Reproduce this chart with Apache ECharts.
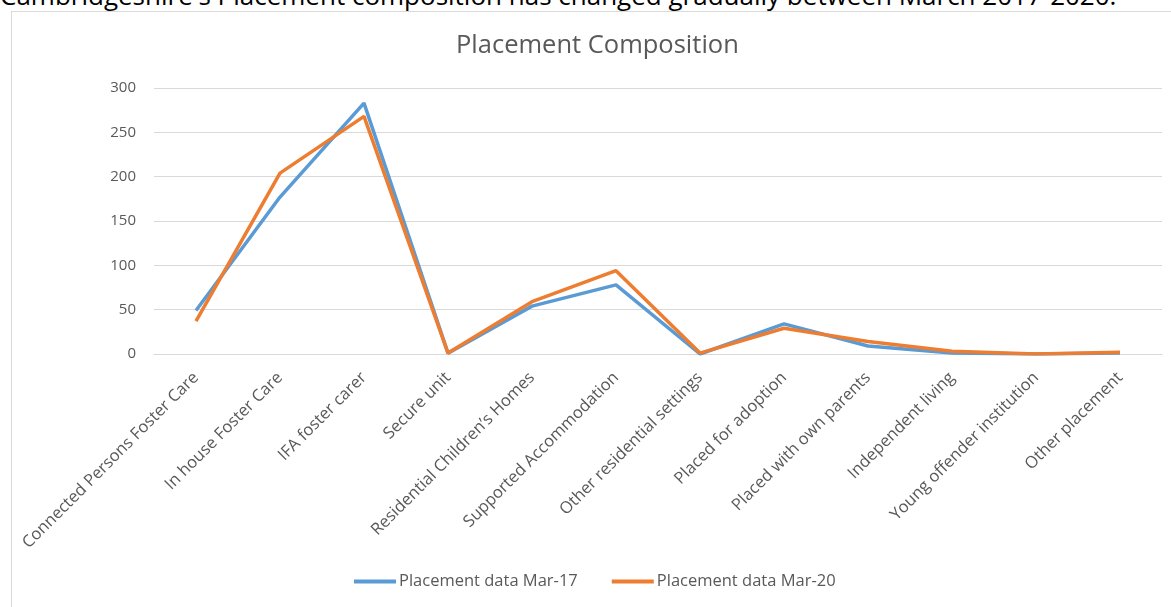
<!DOCTYPE html>
<html lang="en">
<head>
    <meta charset="UTF-8">
    <title>Placement Composition</title>
    <style>
        body, html {
            margin: 0;
            padding: 0;
            width: 100%;
            height: 100%;
            overflow: hidden;
            background: #fff;
        }

        .caption {
            position: absolute;
            left: 0;
            top: -18px;
            font: 26px/26px "Open Sans", sans-serif;
            color: #000;
            white-space: nowrap;
        }

        .frame {
            position: absolute;
            left: 11px;
            top: 11px;
            width: 1200px;
            height: 700px;
            border: 1px solid #d9d9d9;
        }

        #main {
            position: absolute;
            left: 0;
            top: 0;
            width: 1171px;
            height: 607px;
        }
    </style>
</head>
<body>
<div class="caption">Cambridgeshire's Placement composition has changed gradually between March 2017-2020.</div>
<div class="frame"></div>
<div id="main"></div>
<script src="https://cdn.jsdelivr.net/npm/echarts@6/dist/echarts.min.js"></script>
<script>

    let categories = [
        'Connected Persons Foster Care', 'In house Foster Care', 'IFA foster carer', 'Secure unit',
        'Residential Children\u2019s Homes', 'Supported Accommodation', 'Other residential settings',
        'Placed for adoption', 'Placed with own parents', 'Independent living',
        'Young offender institution', 'Other placement'
    ];
    let mar17 = [49, 177, 283, 1, 54, 78, 0, 34, 9, 1, 0, 1];
    let mar20 = [37, 204, 268, 1, 59, 94, 1, 29, 14, 3, 0, 2];
    let yTicks = {min: 0, max: 300, interval: 50};

    //  图表初始化
    let myChart = echarts.init(document.getElementById('main'));
    let txt = '#595959';
    let option = {
        animation: false,
        title: {
            text: 'Placement Composition',
            left: 451,
            top: 28,
            textStyle: {
                color: txt,
                fontFamily: 'Open Sans',
                fontWeight: 'normal',
                fontSize: 25.5
            }
        },
        color: ['#5b9bd5', '#ed7d31'],
        grid: {
            left: 154,
            right: 9,
            top: 88,
            bottom: 253
        },
        legend: {
            top: 568,
            left: 349,
            icon: 'rect',
            itemWidth: 42,
            itemHeight: 4,
            itemGap: 34,
            textStyle: {color: txt, fontSize: 16.5, fontFamily: 'Open Sans', padding: [0, 0, 0, -2]},
            data: ['Placement data Mar-17', 'Placement data Mar-20']
        },
        xAxis: {
            type: 'category',
            data: categories,
            boundaryGap: true,
            axisLine: {lineStyle: {color: '#d9d9d9'}},
            axisTick: {show: false},
            axisLabel: {
                rotate: 45,
                interval: 0,
                margin: 21,
                color: txt,
                fontSize: 16.5,
                fontFamily: 'Open Sans'
            }
        },
        yAxis: {
            type: 'value',
            min: yTicks.min,
            max: yTicks.max,
            interval: yTicks.interval,
            axisLine: {show: false},
            axisTick: {show: false},
            axisLabel: {color: txt, fontSize: 15, fontFamily: 'Open Sans', margin: 18},
            splitLine: {lineStyle: {color: '#d9d9d9', width: 1}}
        },
        series: [
            {
                name: 'Placement data Mar-17',
                type: 'line',
                data: mar17,
                showSymbol: false,
                lineStyle: {width: 3.5}
            },
            {
                name: 'Placement data Mar-20',
                type: 'line',
                data: mar20,
                showSymbol: false,
                lineStyle: {width: 3.5}
            }
        ]
    };

    myChart.setOption(option);

</script>
</body>
</html>
